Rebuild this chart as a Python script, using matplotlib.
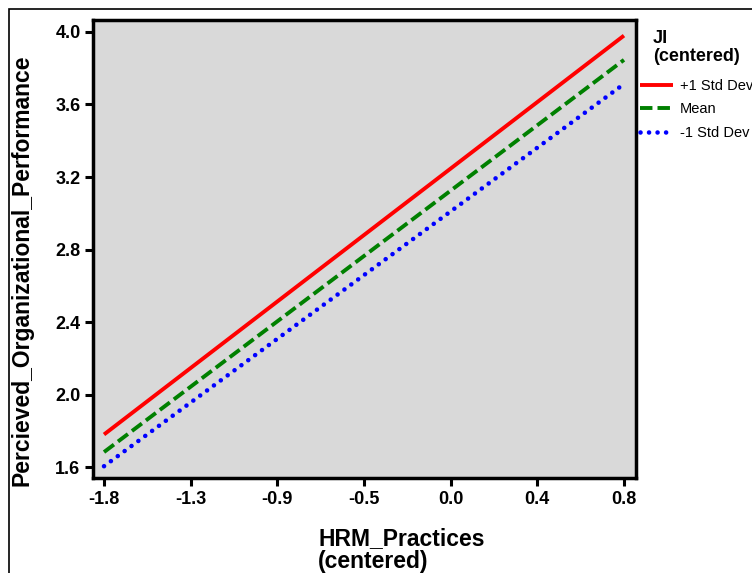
import numpy as np
import matplotlib
matplotlib.use("Agg")
import matplotlib.pyplot as plt
from matplotlib.patches import Rectangle

plt.rcParams["font.family"] = ["Liberation Sans", "DejaVu Sans"]

# Simple slopes of HRM_Practices at levels of JI
x_ends = [-1.75, 0.8]
plus_sd = [1.78, 3.98]
mean_line = [1.683, 3.846]
minus_sd = [1.605, 3.713]
series_labels = ["+1 Std Dev", "Mean", "-1 Std Dev"]

x_ticks = np.linspace(-1.75, 0.8, 7)
x_tick_labels = ["-1.8", "-1.3", "-0.9", "-0.5", "0.0", "0.4", "0.8"]
y_ticks = [1.6, 2.0, 2.4, 2.8, 3.2, 3.6, 4.0]

W, H = 752, 573
fig = plt.figure(figsize=(W / 100, H / 100), dpi=100)

# outer frame (runs off right/bottom edge)
fig.patches.append(Rectangle((9 / W, -0.1), 2.0, 1 - 9 / H + 0.1,
                             transform=fig.transFigure, fill=False,
                             edgecolor="black", linewidth=1.2))

ax = fig.add_axes([93 / W, 1 - 478 / H, (636 - 93) / W, (478 - 20) / H])
ax.set_facecolor("#d9d9d9")

lw = 2.8
ax.plot(x_ends, plus_sd, color="#ff0000", lw=lw, solid_capstyle="butt", label=series_labels[0])
ax.plot(x_ends, mean_line, color="#008000", lw=lw, ls=(0, (3.2, 1.3)), label=series_labels[1])
ax.plot(x_ends, minus_sd, color="#0000ff", lw=3.3, ls=(0, (0.01, 1.85)),
        dash_capstyle="round", label=series_labels[2])

ax.set_xlim(-1.804, 0.859)
ax.set_ylim(1.54, 4.066)
ax.set_xticks(x_ticks)
ax.set_xticklabels(x_tick_labels)
ax.set_yticks(y_ticks)
ax.set_yticklabels([f"{v:.1f}" for v in y_ticks])

for s in ax.spines.values():
    s.set_linewidth(2.5)
ax.tick_params(direction="out", length=6, width=2.2, labelsize=13, pad=3)
for lab in ax.get_xticklabels() + ax.get_yticklabels():
    lab.set_fontweight("bold")

fig.text(22 / W, 1 - 270 / H, "Percieved_Organizational_Performance", rotation=90,
         ha="center", va="center", fontsize=16.5, fontweight="bold")
fig.text(318 / W, 1 - 545 / H, "HRM_Practices", ha="left", va="baseline",
         fontsize=16.5, fontweight="bold")
fig.text(318 / W, 1 - 568 / H, "(centered)", ha="left", va="baseline",
         fontsize=16.5, fontweight="bold")

# legend title
fig.text(653 / W, 1 - 43 / H, "JI", ha="left", va="baseline", fontsize=13, fontweight="bold")
fig.text(653 / W, 1 - 61 / H, "(centered)", ha="left", va="baseline", fontsize=13, fontweight="bold")

leg = ax.legend(loc="upper left", bbox_to_anchor=(640 / W, 1 - 79 / H),
                bbox_transform=fig.transFigure, frameon=False, fontsize=10.5,
                handlelength=2.27, handletextpad=0.48, labelspacing=0.65,
                borderpad=0, borderaxespad=0)

fig.savefig("out.png", dpi=100)
